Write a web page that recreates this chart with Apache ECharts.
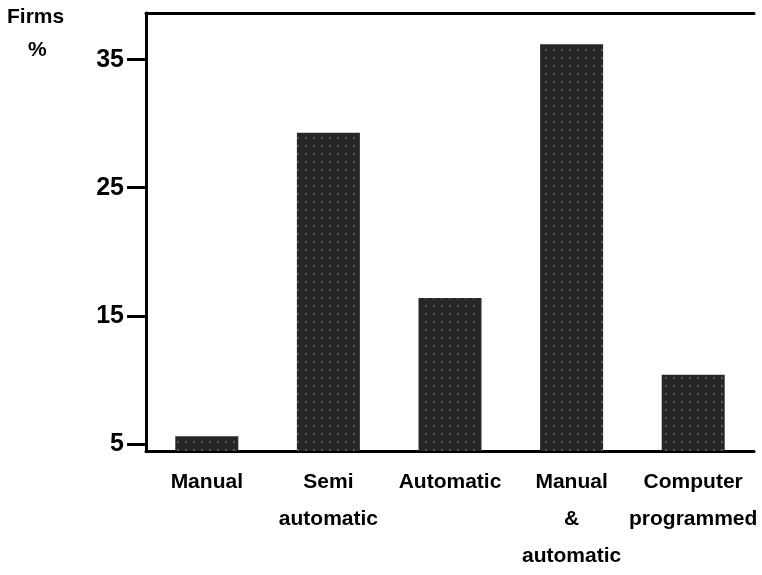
<!DOCTYPE html>
<html>
<head>
<meta charset="utf-8">
<script src="https://cdn.jsdelivr.net/npm/echarts@6/dist/echarts.min.js"></script>
<style>
html, body { margin: 0; padding: 0; background: #fff; }
#main { width: 762px; height: 575px; }
</style>
</head>
<body>
<div id="main"></div>
<script>
// data
var categories = ['Manual', 'Semi\nautomatic', 'Automatic', 'Manual\n&\nautomatic', 'Computer\nprogrammed'];
var firmsPct = [5.6, 29.3, 16.4, 36.2, 10.4];
var yTicks = [5, 15, 25, 35];

var myChart = echarts.init(document.getElementById('main'));
var option = {
	backgroundColor : '#ffffff',
	animation : false,
	title : [ {
		text : 'Firms',
		left : 2,
		top : 2,
		textStyle : { fontFamily : 'Liberation Sans', fontWeight : 'bold', fontSize : 21, color : '#000' }
	}, {
		text : '%',
		left : 23,
		top : 35,
		textStyle : { fontFamily : 'Liberation Sans', fontWeight : 'bold', fontSize : 21, color : '#000' }
	} ],
	grid : {
		left : 146,
		right : 8,
		top : 13,
		bottom : 124
	},
	xAxis : [ {
		type : 'category',
		data : categories,
		axisTick : { show : false },
		axisLine : { lineStyle : { color : '#000', width : 3 } },
		axisLabel : {
			interval : 0,
			margin : 13,
			color : '#000',
			fontFamily : 'Liberation Sans',
			fontWeight : 'bold',
			fontSize : 21,
			lineHeight : 37
		}
	}, {
		type : 'category',
		position : 'top',
		data : categories,
		axisTick : { show : false },
		axisLabel : { show : false },
		axisLine : { lineStyle : { color : '#000', width : 3 } }
	} ],
	yAxis : {
		type : 'value',
		min : 4.45,
		max : 38.64,
		splitLine : { show : false },
		axisLine : { show : true, lineStyle : { color : '#000', width : 3 } },
		axisTick : {
			show : true,
			length : 19,
			customValues : yTicks,
			lineStyle : { color : '#000', width : 3 }
		},
		axisLabel : {
			customValues : yTicks,
			margin : 22,
			color : '#000',
			fontFamily : 'Liberation Sans',
			fontWeight : 'bold',
			fontSize : 25
		}
	},
	series : [ {
		type : 'bar',
		data : firmsPct,
		barWidth : 63,
		itemStyle : {
			color : '#262626',
			decal : {
				symbol : 'circle',
				symbolSize : 0.55,
				color : 'rgba(255,255,255,0.3)',
				dashArrayX : 4,
				dashArrayY : 4
			}
		}
	} ]
};
myChart.setOption(option);
</script>
</body>
</html>
